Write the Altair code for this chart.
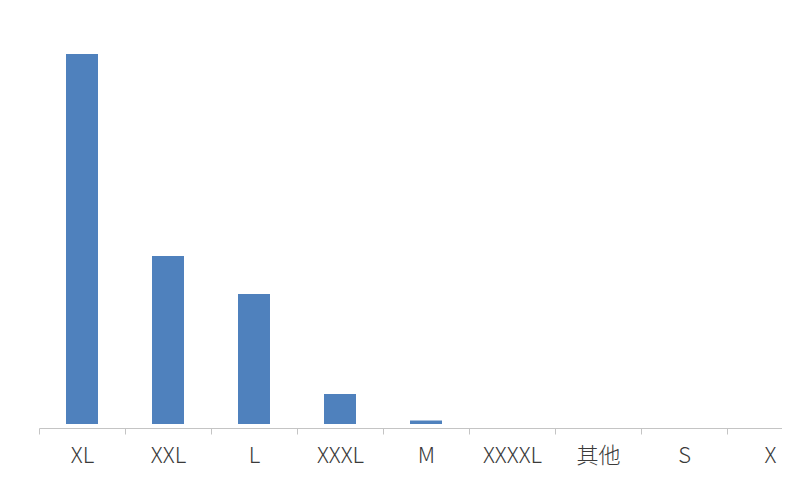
import altair as alt
import pandas as pd

sizes = ["XL", "XXL", "L", "XXXL", "M", "XXXXL", "其他", "S", "X"]
counts = [370, 168, 130, 30, 3.5, 0, 0, 0, 0]

df = pd.DataFrame({"size": sizes, "count": counts})

bars = alt.Chart(df).mark_bar(color="#4f81bd", width={"band": 0.372}).encode(
    x=alt.X(
        "size:N",
        sort=sizes,
        title=None,
        scale=alt.Scale(range=[0, 774], paddingInner=0, paddingOuter=0),
        axis=alt.Axis(
            labelAngle=0,
            labelFont="Noto Sans CJK SC",
            labelFontSize=22,
            labelFontWeight=300,
            labelColor="#3a3a3a",
            labelPadding=11,
            domainColor="#c4c4c4",
            tickColor="#c4c4c4",
            tickSize=6,
            tickBand="extent",
            offset=4,
            grid=False,
        ),
    ),
    y=alt.Y(
        "count:Q",
        title=None,
        scale=alt.Scale(domain=[0, 416], nice=False),
        axis=None,
    ),
)

chart = bars.properties(
    width=743,
    height=416,
    autosize=alt.AutoSizeParams(type="none"),
    padding={"left": 31, "top": 0, "right": 0, "bottom": 48},
    background="#ffffff",
).configure_view(stroke=None)

chart.save("out.html", embed_options={"renderer": "svg", "actions": False})
